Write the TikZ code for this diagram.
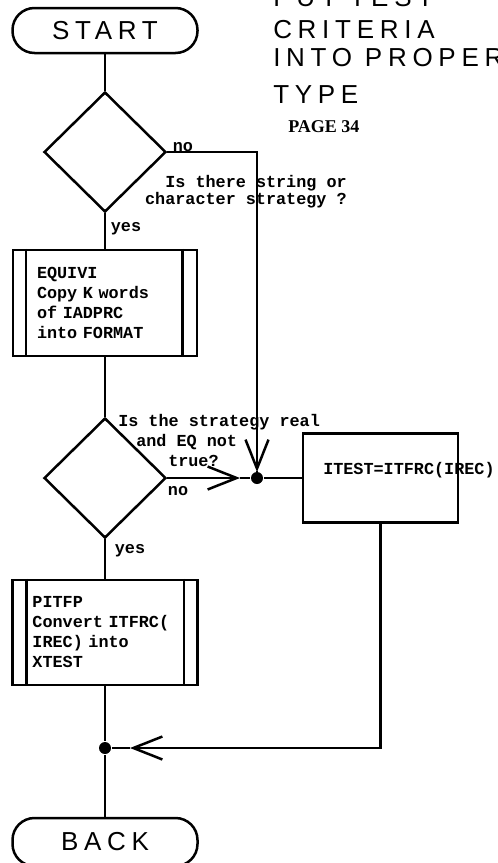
\documentclass[tikz,border=0pt]{standalone}
\usepackage{fontspec}
\setmainfont{Liberation Serif}
\newfontfamily\lettering[LetterSpace=22]{Liberation Sans}
\newfontfamily\typed{Liberation Mono}
\usetikzlibrary{shapes.geometric, arrows.meta}

\begin{document}
\begin{tikzpicture}[
        x=0.5pt, y=-0.5pt,
        line width=1.25pt,
        terminal/.style={draw, rounded corners=11pt, minimum width=92.5pt, minimum height=22.5pt, inner sep=0pt, font=\lettering\fontsize{13}{15}\selectfont},
        decision/.style={diamond, draw, minimum width=61pt, minimum height=60pt, inner sep=0pt},
        subproc/.style={draw, rectangle, align=left, inner ysep=0pt, font=\typed\bfseries\fontsize{8.4}{10}\selectfont},
        process/.style={draw, rectangle, minimum width=77.5pt, minimum height=44.5pt, inner sep=0pt},
        remark/.style={inner sep=0pt, font=\typed\bfseries\fontsize{8.4}{8.7}\selectfont},
        heading/.style={anchor=base west, inner sep=0pt, font=\lettering\fontsize{13}{15}\selectfont},
        dot/.style={circle, fill, minimum size=6pt, inner sep=0pt},
        arrow/.style={-{Straight Barb[length=14.5pt, width=11.5pt]}}
    ]
        \useasboundingbox (0,0) rectangle (498,863);

        % === Title ===
        \node[heading] (t1) at (272,6) {PUT TEST};
        \node[heading] (t2) at (272,38) {CRITERIA};
        \node[heading] (t3) at (272,66) {INTO PROPER};
        \node[heading] (t4) at (272,103) {TYPE};
        \node[anchor=base west, inner sep=0pt, font=\bfseries\fontsize{9}{10}\selectfont] (pg) at (287,132) {PAGE 34};

        % === Main column ===
        \node[terminal] (start) at (105,30.5) {START};
        \node[decision] (d1) at (105,152) {};
        \node[subproc, text width=68pt, inner xsep=12pt, minimum height=53pt] (eq) at (105,303) {EQUIVI\\Copy K words\\of IADPRC\\into FORMAT};
        \node[decision] (d2) at (105,478) {};
        \node[subproc, text width=72.5pt, inner xsep=10pt, minimum height=52.5pt] (pf) at (105,632.5) {PITFP\\Convert ITFRC(\\IREC) into\\XTEST};
        \node[dot] (j2) at (105,748) {};
        \node[terminal, minimum height=24pt] (back) at (105,842) {BACK};

        \draw ([xshift=7pt]eq.north west) -- ([xshift=7pt]eq.south west);
        \draw ([xshift=-8pt]eq.north east) -- ([xshift=-8pt]eq.south east);
        \draw ([xshift=7.5pt]pf.north west) -- ([xshift=7.5pt]pf.south west);
        \draw ([xshift=-7.5pt]pf.north east) -- ([xshift=-7.5pt]pf.south east);

        % === Right branch ===
        \node[dot] (j1) at (257,478) {};
        \node[process] (it) at (380.5,478) {};
        \node[anchor=west, inner sep=0pt, font=\typed\bfseries\fontsize{8.4}{10}\selectfont] (itx) at (322,470) {ITEST=ITFRC(IREC)};
        \coordinate (tip1) at (257,472);
        \coordinate (tip2) at (240,478);
        \coordinate (tip3) at (130,748);

        % === Labels ===
        \node[remark, anchor=north east, align=right] (q1) at (348,174) {Is there string or\\character strategy ?};
        \node[remark, anchor=north west, align=left, font=\typed\bfseries\fontsize{8.4}{10}\selectfont] (q2) at (117,413) {Is the strategy real\\\hspace*{9pt}and EQ not\\\hspace*{25pt}true?};
        \node[remark] (no1) at (183,147) {no};
        \node[remark] (yes1) at (126,229) {yes};
        \node[remark] (no2) at (178,491) {no};
        \node[remark] (yes2) at (130,551) {yes};

        % === Connectors ===
        \draw (start) -- (d1);
        \draw (d1) -- (eq);
        \draw (eq) -- (d2);
        \draw (d2) -- (pf);
        \draw (pf) -- (j2) -- (back);
        \draw[arrow] (d1.east) -| (tip1);
        \draw (tip1) -- (j1);
        \draw[arrow] (d2.east) -- (tip2);
        \draw (tip2) -- (j1) -- (it.west);
        \draw[arrow] (it.south) |- (tip3);
        \draw (tip3) -- (j2);
    \end{tikzpicture}
\end{document}
